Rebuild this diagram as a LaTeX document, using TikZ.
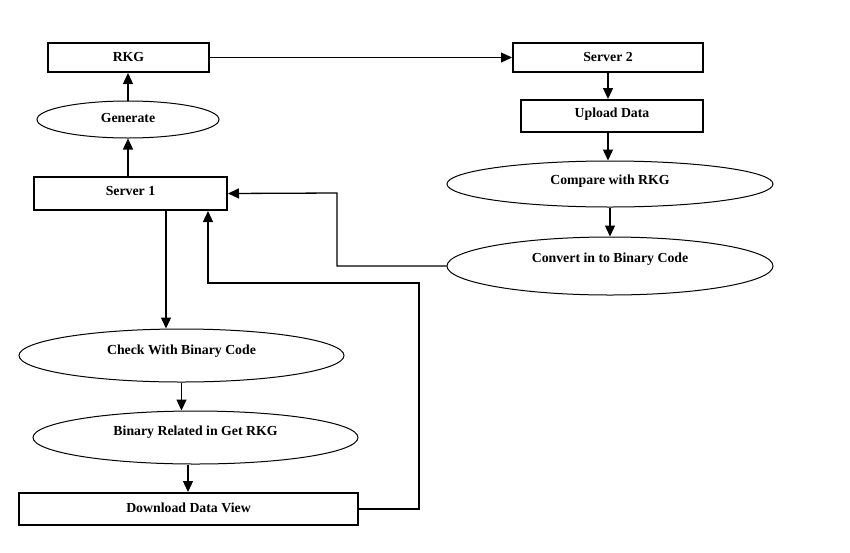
\documentclass[tikz,border=0pt]{standalone}
\usepackage{fontspec}
\setmainfont{Liberation Serif}
\usetikzlibrary{shapes.geometric,arrows.meta}
\begin{document}
\begin{tikzpicture}[x=1pt,y=-1pt,
  every node/.style={font=\fontsize{13.8}{16}\selectfont\bfseries, inner sep=0pt},
  boxnode/.style={draw, rectangle, line width=2pt},
  ellnode/.style={draw, ellipse, line width=1pt},
  th/.style 2 args={text height=#1pt, text depth=#2pt},
  arr/.style={line width=1.3pt, -{Triangle[length=11pt,width=10pt]}}]
\useasboundingbox[fill=white] (0,0) rectangle (850,552);
\node[boxnode, th={9.1}{1}, minimum width=161pt, minimum height=29pt] (rkg) at (128.5,57.5) {RKG};
\node[boxnode, th={9.6}{1}, minimum width=190pt, minimum height=29pt] (s2) at (608,57.5) {Server 2};
\node[boxnode, th={8}{4.8}, minimum width=182pt, minimum height=32pt] (up) at (612,116) {Upload Data};
\node[ellnode, th={9}{2.8}, minimum width=182pt, minimum height=37pt] (gen) at (128,119.5) {Generate};
\node[boxnode, th={9}{4.4}, minimum width=193pt, minimum height=33pt] (s1) at (130.5,193.5) {Server 1};
\node[ellnode, th={8}{6.2}, minimum width=326pt, minimum height=46pt] (cmp) at (610,184) {Compare with RKG};
\node[ellnode, th={5}{11.8}, minimum width=326pt, minimum height=58pt] (cnv) at (610,266) {Convert in to Binary Code};
\node[ellnode, th={6}{8.2}, minimum width=325pt, minimum height=53pt] (chk) at (181.5,355.5) {Check With Binary Code};
\node[ellnode, th={6}{9.2}, minimum width=325pt, minimum height=53pt] (bin) at (195.5,437.5) {Binary Related in Get RKG};
\node[boxnode, th={9}{1.8}, minimum width=339pt, minimum height=32pt] (dl) at (188.5,509) {Download Data View};

\coordinate (c1) at (337,266);
\coordinate (c2) at (337,193);
\coordinate (d1) at (419,509);
\coordinate (d2) at (419,283);
\coordinate (d3) at (208,283);

\draw[arr] (rkg.east) -- (s2.west);
\draw[arr] (s2.south) -- (s2.south |- up.north);
\draw[arr] (s2.south |- up.south) -- (s2.south |- cmp.north);
\draw[arr] (cmp.south) -- (cnv.north);
\draw[arr] (cnv.west) -- (c1) -- (c2) -- (s1.east);
\draw[arr] (gen.north) -- (gen.north |- rkg.south);
\draw[arr] (gen.south |- s1.north) -- (gen.south);
\draw[arr] ([xshift=35.5pt]s1.south) -- ([xshift=-15.5pt]chk.north);
\draw[arr] (chk.south) -- (chk.south |- bin.north);
\draw[arr] ([xshift=-7.5pt]bin.south) -- ([xshift=-7.5pt]bin.south |- dl.north);
\draw[arr] (dl.east) -- (d1) -- (d2) -- (d3) -- (d3 |- s1.south);
\end{tikzpicture}
\end{document}
